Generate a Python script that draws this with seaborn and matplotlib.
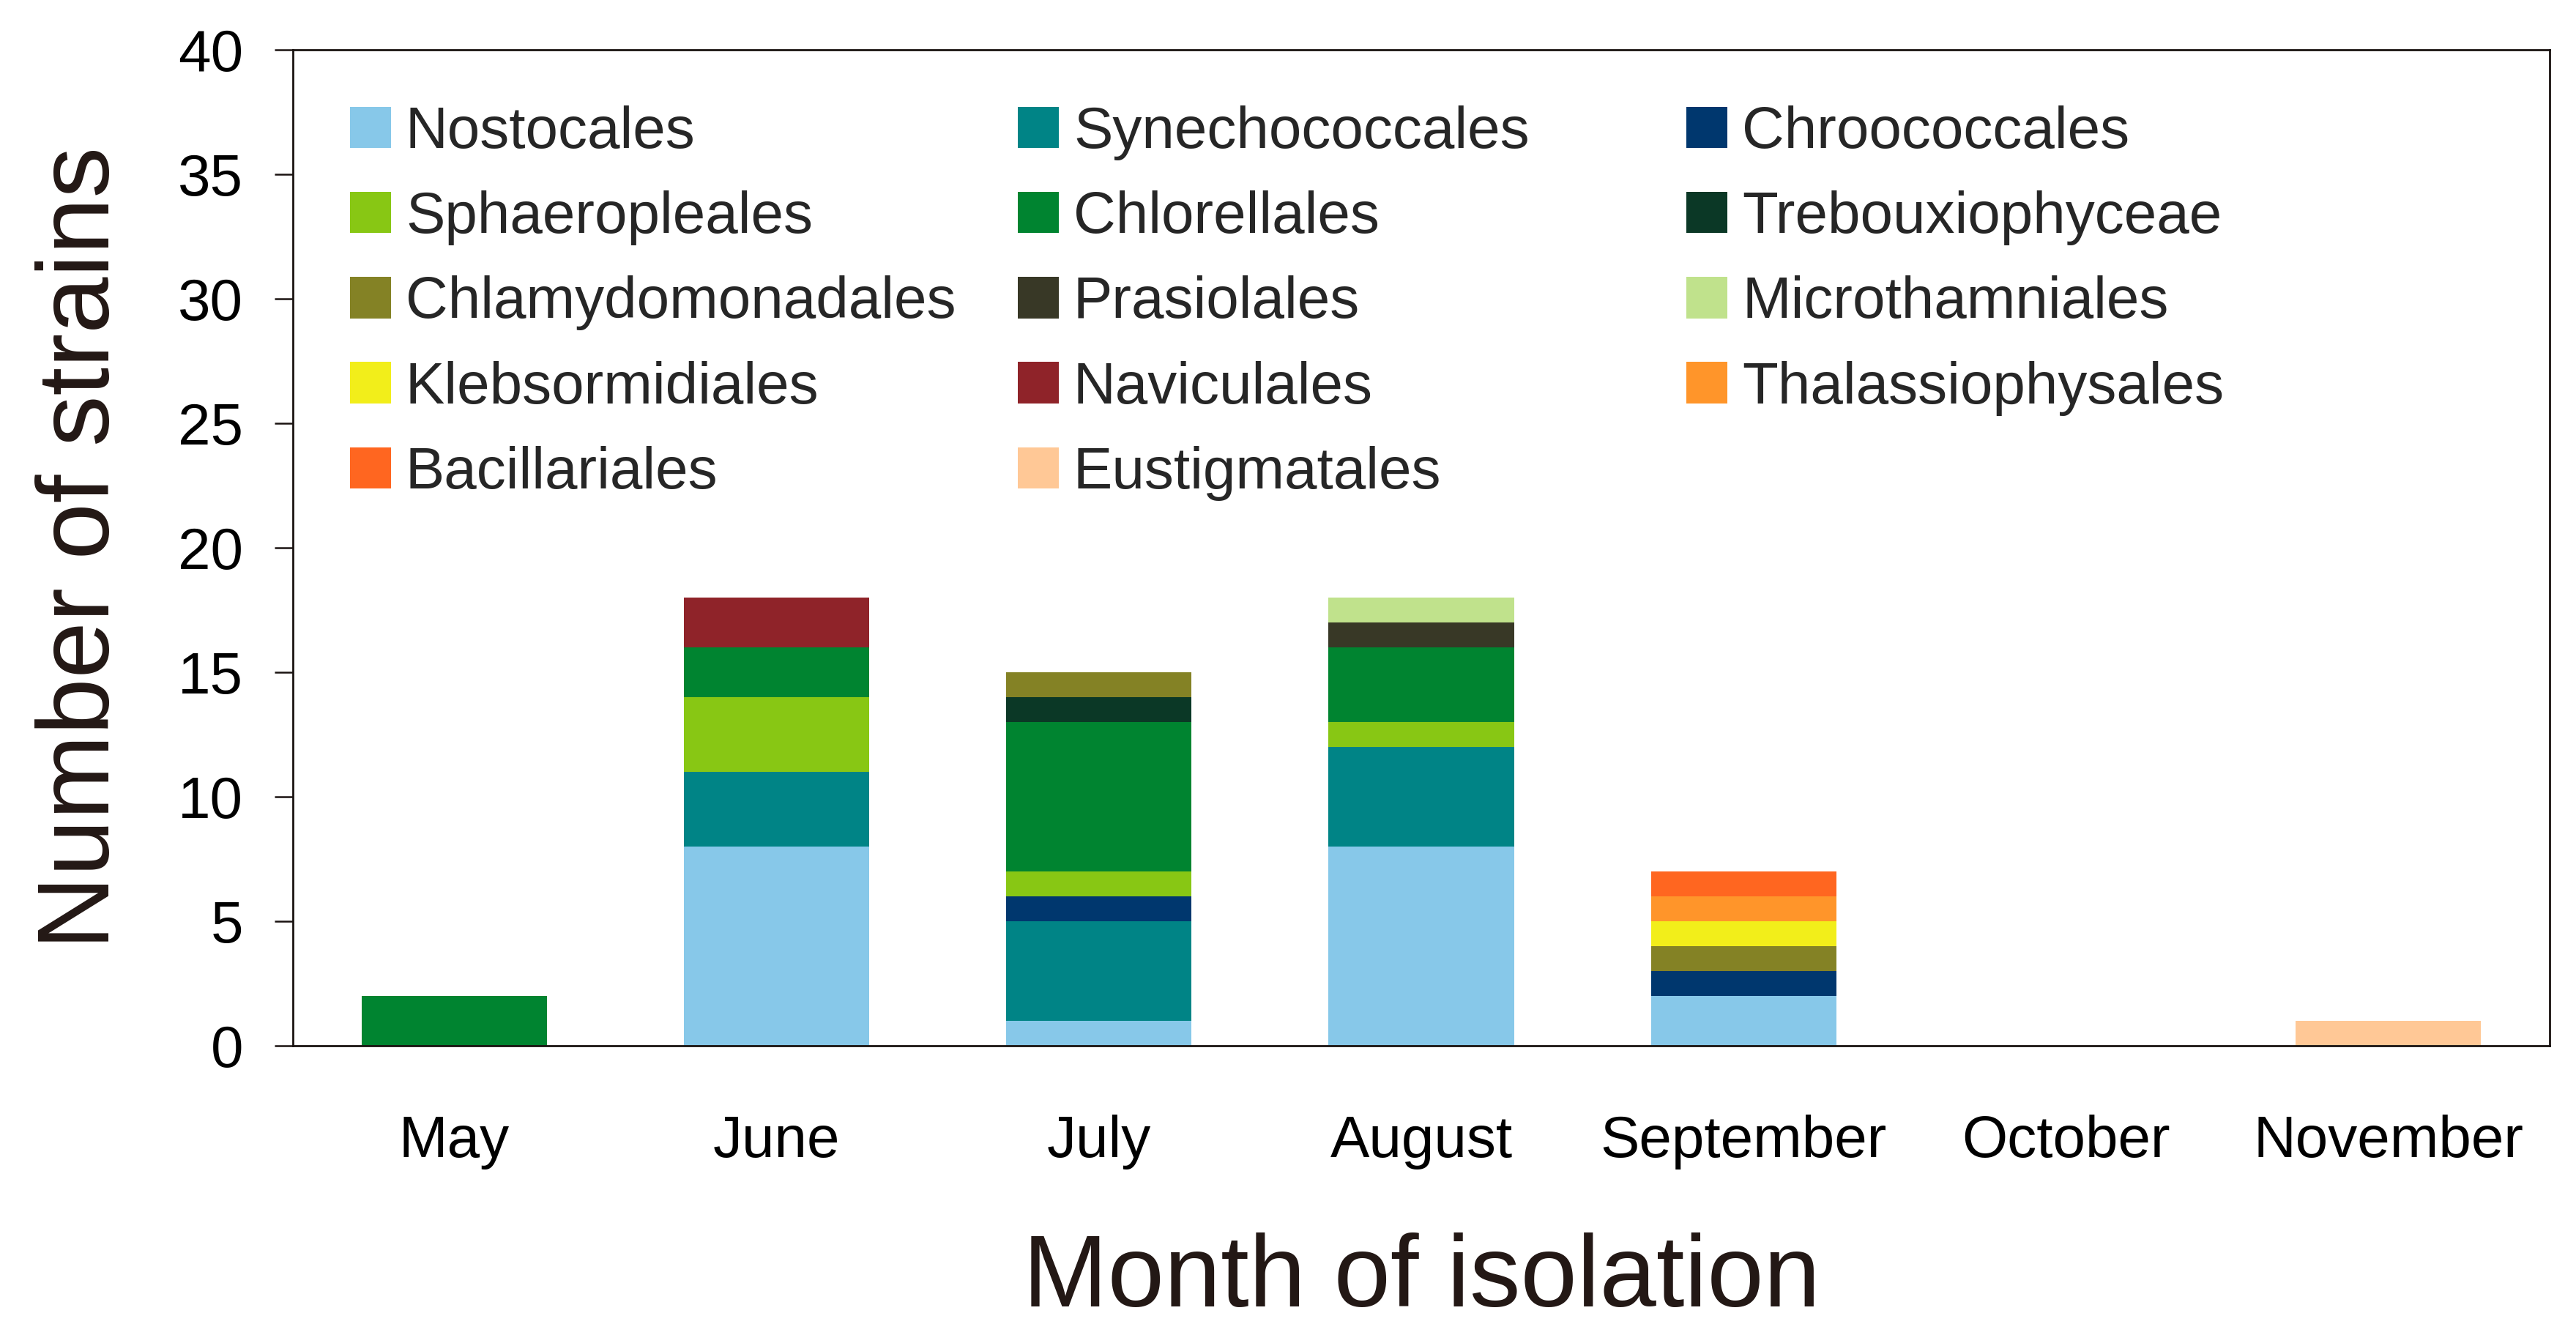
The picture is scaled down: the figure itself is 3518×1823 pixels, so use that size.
import numpy as np
import matplotlib.pyplot as plt
from matplotlib.patches import Patch
import seaborn as sns

# monate + ordnungen
months = ["May", "June", "July", "August", "September", "October", "November"]
orders = ["Nostocales", "Synechococcales", "Chroococcales",
          "Sphaeropleales", "Chlorellales", "Trebouxiophyceae",
          "Chlamydomonadales", "Prasiolales", "Microthamniales",
          "Klebsormidiales", "Naviculales", "Thalassiophysales",
          "Bacillariales", "Eustigmatales"]

# anzahl stämme pro monat (Mai ... November)
nostocales        = [0, 8, 1, 8, 2, 0, 0]
synechococcales   = [0, 3, 4, 4, 0, 0, 0]
chroococcales     = [0, 0, 1, 0, 1, 0, 0]
sphaeropleales    = [0, 3, 1, 1, 0, 0, 0]
chlorellales      = [2, 2, 6, 3, 0, 0, 0]
trebouxiophyceae  = [0, 0, 1, 0, 0, 0, 0]
chlamydomonadales = [0, 0, 1, 0, 1, 0, 0]
prasiolales       = [0, 0, 0, 1, 0, 0, 0]
microthamniales   = [0, 0, 0, 1, 0, 0, 0]
klebsormidiales   = [0, 0, 0, 0, 1, 0, 0]
naviculales       = [0, 2, 0, 0, 0, 0, 0]
thalassiophysales = [0, 0, 0, 0, 1, 0, 0]
bacillariales     = [0, 0, 0, 0, 1, 0, 0]
eustigmatales     = [0, 0, 0, 0, 0, 0, 1]

counts = [nostocales, synechococcales, chroococcales, sphaeropleales,
          chlorellales, trebouxiophyceae, chlamydomonadales, prasiolales,
          microthamniales, klebsormidiales, naviculales, thalassiophysales,
          bacillariales, eustigmatales]

colors = ["#87C8E9", "#008486", "#00376E",
          "#88C714", "#008430", "#0B3826",
          "#848225", "#383826", "#C0E28C",
          "#F2EE1A", "#8F2329", "#FF952A",
          "#FF6620", "#FFC896"]

yticks = [0, 5, 10, 15, 20, 25, 30, 35, 40]

sns.set_style("ticks")
plt.rcParams["font.family"] = ["Liberation Sans", "DejaVu Sans"]

W, H = 3518, 1823
fig = plt.figure(figsize=(W / 100, H / 100), dpi=100)
ax = fig.add_axes([400 / W, 1 - 1428 / H, 3082 / W, 1360 / H])

# gestapelte balken
bottom = np.zeros(len(months))
for name, vals, col in zip(orders, counts, colors):
    sns.barplot(x=months, y=vals, bottom=bottom, color=col, saturation=1,
                width=0.575, errorbar=None, linewidth=0, ax=ax)
    bottom += np.array(vals)

ax.set_xlim(-0.5, 6.5)
ax.set_ylim(0, 40)
ax.set_yticks(yticks)

for s in ax.spines.values():
    s.set_visible(True)
    s.set_linewidth(2.0)
    s.set_color("#1a1311")

ax.tick_params(axis="y", direction="out", length=18, width=1.8, pad=31,
               labelsize=57.6, colors="#1a1311", labelcolor="black")
ax.tick_params(axis="x", length=0, pad=68, labelsize=57.6, labelcolor="black")

ax.set_xlabel("Month of isolation", fontsize=100, color="#231815")
ax.set_ylabel("Number of strains", fontsize=100, color="#231815")
ax.xaxis.set_label_coords(0.5, -0.1875)
ax.yaxis.set_label_coords(-0.072, 0.5)

# legende: drei spalten, zeilenweise gelesen
handles = [Patch(facecolor=c, edgecolor="none", label=n) for n, c in zip(orders, colors)]
col_x = [478, 1390, 2303]
for i, x0 in enumerate(col_x):
    leg = ax.legend(handles=handles[i::3], loc="upper left",
                    bbox_to_anchor=(x0 / W, 1 - 144 / H), bbox_transform=fig.transFigure,
                    frameon=False, fontsize=57.6, handlelength=0.7, handleheight=0.71,
                    handletextpad=0.25, labelspacing=0.515, borderpad=0, borderaxespad=0)
    if i < 2:
        ax.add_artist(leg)

fig.savefig("out.png", dpi=100)
